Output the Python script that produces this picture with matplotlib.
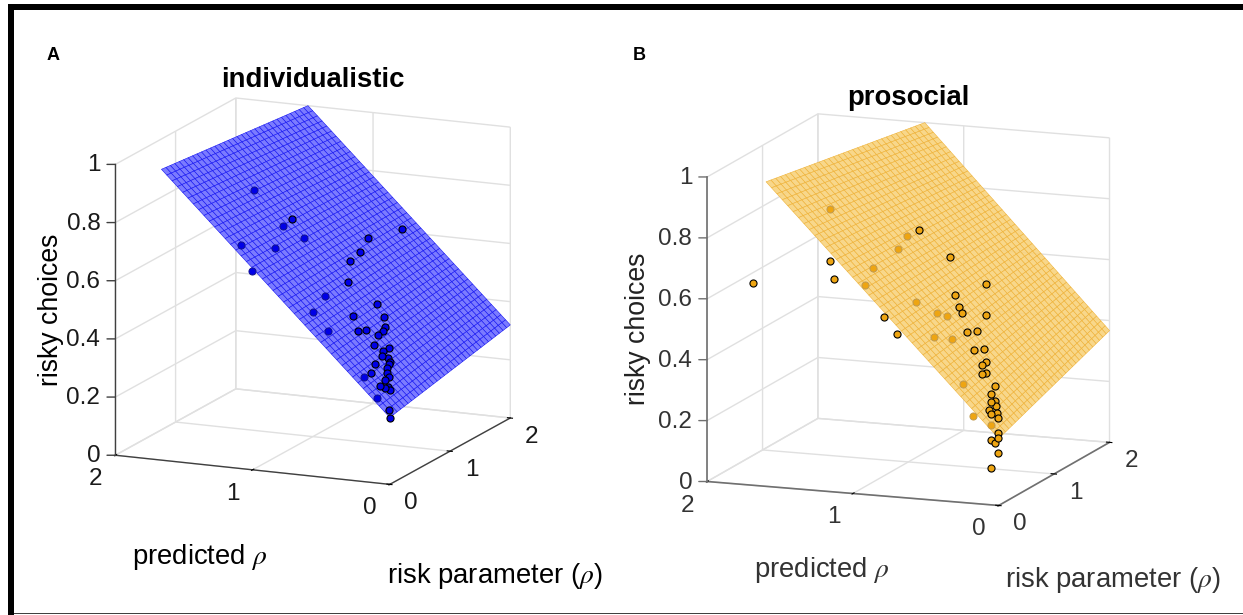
#!/usr/bin/env python3
"""Two 3D panels: risky choices vs. risk parameter and predicted rho."""
import matplotlib
matplotlib.use("Agg")
import matplotlib.pyplot as plt
import numpy as np
from matplotlib.patches import Rectangle
from mpl_toolkits.mplot3d import proj3d

plt.rcParams["font.family"] = ["Liberation Sans", "DejaVu Sans"]
plt.rcParams["mathtext.fontset"] = "stix"

W, H = 1243, 615

# predicted rho, risk parameter, risky choices; "back" points sit under the surface
A_BACK_X = [1.304, 1.13, 1.013, 1.075, 0.964, 1.016, 0.676, 0.649, 0.526, 0.114, 0.236]
A_BACK_Y = [0.722, 0.097, 0.409, 0.682, 0.779, 0.02, 0.456, 0.198, 0.165, 0.044, 0.105]
A_BACK_Z = [0.866, 0.757, 0.717, 0.758, 0.711, 0.682, 0.563, 0.539, 0.481, 0.285, 0.344]
A_FRONT_X = [1.075, 0.771, 0.703, 0.74, 0.735, 0.661, 0.51, 0.435, 0.418, 0.484, 0.415,
             0.37, 0.359, 0.359, 0.335, 0.278, 0.285, 0.268, 0.242, 0.22, 0.215, 0.258,
             0.202, 0.231, 0.182, 0.164, 0.165, 0.152, 0.133, 0.124, 0.11, 0.031, 0.009]
A_FRONT_Y = [0.831, 1.398, 1.807, 1.196, 1.019, 0.804, 0.559, 0.456, 0.551, 0.898, 0.841,
             0.771, 0.698, 0.614, 0.495, 0.613, 0.529, 0.475, 0.515, 0.499, 0.471, 0.336,
             0.407, 0.208, 0.363, 0.356, 0.29, 0.18, 0.219, 0.248, 0.25, 0.053, 0.02]
A_FRONT_Z = [0.765, 0.649, 0.637, 0.626, 0.616, 0.572, 0.491, 0.452, 0.448, 0.494, 0.46,
             0.436, 0.428, 0.424, 0.407, 0.386, 0.385, 0.375, 0.365, 0.354, 0.351, 0.364,
             0.342, 0.346, 0.331, 0.322, 0.319, 0.309, 0.301, 0.299, 0.292, 0.247, 0.227]

B_BACK_X = [1.299, 0.962, 0.949, 0.967, 0.937, 0.717, 0.613, 0.568, 0.544, 0.476, 0.293, 0.186, 0.071]
B_BACK_Y = [0.378, 0.871, 0.688, 0.278, 0.05, 0.397, 0.504, 0.566, 0.264, 0.413, 0.124, 0.02, 0.044]
B_BACK_Z = [0.884, 0.756, 0.735, 0.714, 0.683, 0.6, 0.557, 0.54, 0.506, 0.484, 0.373, 0.286, 0.258]
B_FRONT_X = [0.943, 0.755, 1.165, 1.138, 1.692, 0.55, 0.614, 0.559, 0.532, 0.449, 0.795, 0.706,
             0.451, 0.422, 0.369, 0.34, 0.291, 0.294, 0.255, 0.265, 0.183, 0.17, 0.144, 0.134,
             0.114, 0.124, 0.091, 0.104, 0.072, 0.023, 0.014, 0.062, 0.035, 0.014, 0.062]
B_FRONT_Y = [1.041, 1.105, 0.02, 0.02, 0.02, 1.218, 0.819, 0.762, 0.729, 0.945, 0.02, 0.02,
             0.62, 0.726, 0.53, 0.636, 0.541, 0.476, 0.444, 0.397, 0.418, 0.308, 0.238, 0.286,
             0.251, 0.148, 0.208, 0.132, 0.174, 0.042, 0.02, 0.02, 0.02, 0.02, 0.02]
B_FRONT_Z = [0.759, 0.671, 0.755, 0.697, 0.663, 0.579, 0.581, 0.55, 0.534, 0.509, 0.586, 0.534,
             0.486, 0.48, 0.44, 0.433, 0.402, 0.399, 0.378, 0.379, 0.341, 0.326, 0.308, 0.307,
             0.295, 0.292, 0.28, 0.281, 0.268, 0.234, 0.22, 0.209, 0.203, 0.171, 0.12]

# fitted surface corners: rows are lower/upper edge, columns rho = 0 / rho = 2
SURF_Y = [0, 2]
A_SURF_X = [[0, 0], [1.664, 1.474]]
A_SURF_Z = [[0.23, 0.32], [1, 1]]
B_SURF_X = [[0, 0], [1.596, 1.267]]
B_SURF_Z = [[0.22, 0.367], [1, 1]]

TICKS_XY = [0, 1, 2]
TICKLABELS_XY = ["0", "1", "2"]
TICKS_Z = [0, 0.2, 0.4, 0.6, 0.8, 1]
TICKLABELS_Z = ["0", "0.2", "0.4", "0.6", "0.8", "1"]

TICK_FS = 17.5
LABEL_FS = 19.8


def mesh(corner_x, corner_z, n_y=34, n_s=44):
    # surf() grid spanned between the four corners
    t, s = np.meshgrid(np.linspace(0, 1, n_y), np.linspace(0, 1, n_s))
    def blend(c):
        return ((1 - s) * ((1 - t) * c[0][0] + t * c[0][1])
                + s * ((1 - t) * c[1][0] + t * c[1][1]))
    y = SURF_Y[0] + t * (SURF_Y[1] - SURF_Y[0])
    return blend(corner_x), y, blend(corner_z)


def tick_labels(ax, text_color, axis_color):
    # MATLAB puts these straighter than mplot3d does, so offset them from the tick by hand
    proj = ax.get_proj()

    def place(x, y, z, text, dx, dy, ha="center"):
        xp, yp, _ = proj3d.proj_transform(x, y, z, proj)
        ax.annotate(text, (xp, yp), xytext=(dx * 0.72, -dy * 0.72), textcoords="offset points",
                    ha=ha, va="center", fontsize=TICK_FS, color=text_color, annotation_clip=False)

    for v, text in zip(TICKS_XY, TICKLABELS_XY):
        place(v, 0, 0, text, -19.5, 24)
        place(0, v, 0, text, 21.5, 19)
    for v, text in zip(TICKS_Z, TICKLABELS_Z):
        place(2, 0, v, text, -15, 1, ha="right")
        xp, yp, _ = proj3d.proj_transform(2, 0, v, proj)
        ax.annotate("", (xp, yp), xytext=(-6, 0), textcoords="offset points", annotation_clip=False,
                    arrowprops=dict(arrowstyle="-", color=axis_color, lw=1.0, shrinkA=0, shrinkB=0))


def panel(fig, rect, elev, azim, back, front, surf, colors):
    ax = fig.add_axes(rect, projection="3d", computed_zorder=False)
    ax.set_proj_type("ortho")
    ax.view_init(elev=elev, azim=azim)
    ax.set_box_aspect((1, 1, 1))
    ax.patch.set_visible(False)

    x, y, z = mesh(*surf)
    ax.plot_surface(x, y, z, rstride=1, cstride=1, color=colors["face"], edgecolor=colors["edge"],
                    linewidth=0.4, shade=False, alpha=colors["alpha"], zorder=1)
    ax.scatter(*back, s=colors["size"], c=colors["point"], edgecolors=colors["back_edge"],
               linewidths=0.7, depthshade=False, zorder=2)
    ax.scatter(*front, s=colors["size"], c=colors["point"], edgecolors="black", linewidths=0.8,
               depthshade=False, zorder=3)

    ax.set_xlim(2, 0, view_margin=0)
    ax.set_ylim(0, 2, view_margin=0)
    ax.set_zlim(0, 1, view_margin=0)
    ax.set_xticks(TICKS_XY, [""] * len(TICKS_XY))
    ax.set_yticks(TICKS_XY, [""] * len(TICKS_XY))
    ax.set_zticks(TICKS_Z, [""] * len(TICKS_Z))
    ax.zaxis.set_ticks_position("lower")

    for axis in (ax.xaxis, ax.yaxis, ax.zaxis):
        axis.set_pane_color((1, 1, 1, 0))
        axis.pane.set_edgecolor("none")
        axis.line.set_color(colors["axis"])
        axis.line.set_linewidth(colors["axis_lw"])
        axis._axinfo["grid"].update(color="#e0e0e0", linewidth=1.0)
        axis._axinfo["tick"].update(inward_factor=0.1, outward_factor=0.13)
    ax.zaxis._axinfo["tick"].update(inward_factor=0.0, outward_factor=0.0)
    tick_labels(ax, colors["text"], colors["axis"])
    return ax


def px_text(fig, x, y, s, **kw):
    fig.text(x / W, 1 - y / H, s, ha=kw.pop("ha", "center"), va=kw.pop("va", "center"), **kw)


def px_rect(fig, x0, y0, x1, y1, color):
    fig.add_artist(Rectangle((x0 / W, 1 - y1 / H), (x1 - x0) / W, (y1 - y0) / H,
                             transform=fig.transFigure, facecolor=color, edgecolor="none"))


def main():
    fig = plt.figure(figsize=(W / 100, H / 100), dpi=100)

    panel(fig, [54 / W, 65 / H, 504 / W, 504 / H], 14.0, -66.3,
          (A_BACK_X, A_BACK_Y, A_BACK_Z), (A_FRONT_X, A_FRONT_Y, A_FRONT_Z),
          (A_SURF_X, A_SURF_Z),
          dict(point="#0000e6", back_edge="#101090", face="#7474ff", edge="#1414f2",
               alpha=0.95, size=26, axis="#404040", axis_lw=1.0, text="#1a1a1a"))
    panel(fig, [639 / W, 36 / H, 524.5 / W, 524.5 / H], 12.5, -69.2,
          (B_BACK_X, B_BACK_Y, B_BACK_Z), (B_FRONT_X, B_FRONT_Y, B_FRONT_Z),
          (B_SURF_X, B_SURF_Z),
          dict(point="#eea512", back_edge="#c09a50", face="#f8d27a", edge="#efb238",
               alpha=0.88, size=26, axis="#707070", axis_lw=1.2, text="#333333"))

    px_text(fig, 53, 56, "A", fontsize=13, fontweight="bold")
    px_text(fig, 639, 56, "B", fontsize=13, fontweight="bold")
    px_text(fig, 313, 80, "individualistic", fontsize=LABEL_FS, fontweight="bold")
    px_text(fig, 908, 98, "prosocial", fontsize=LABEL_FS, fontweight="bold")

    px_text(fig, 51, 310, "risky choices", fontsize=19.2, rotation=90)
    px_text(fig, 638, 329, "risky choices", fontsize=19.2, rotation=90, color="#222222")
    px_text(fig, 200, 557, r"predicted $\rho$", fontsize=LABEL_FS)
    px_text(fig, 822, 570, r"predicted $\rho$", fontsize=LABEL_FS, color="#333333")
    px_text(fig, 495, 576, r"risk parameter ($\rho$)", fontsize=LABEL_FS)
    px_text(fig, 1113, 580, r"risk parameter ($\rho$)", fontsize=LABEL_FS, color="#333333")

    # frame of the pasted figure
    px_rect(fig, 8, 4, W, 10, "black")
    px_rect(fig, 8, 4, 14, H, "black")
    px_rect(fig, 14, 612.5, W, 614, "#404040")

    fig.savefig("out.png", dpi=100)
    plt.close(fig)


if __name__ == "__main__":
    main()
